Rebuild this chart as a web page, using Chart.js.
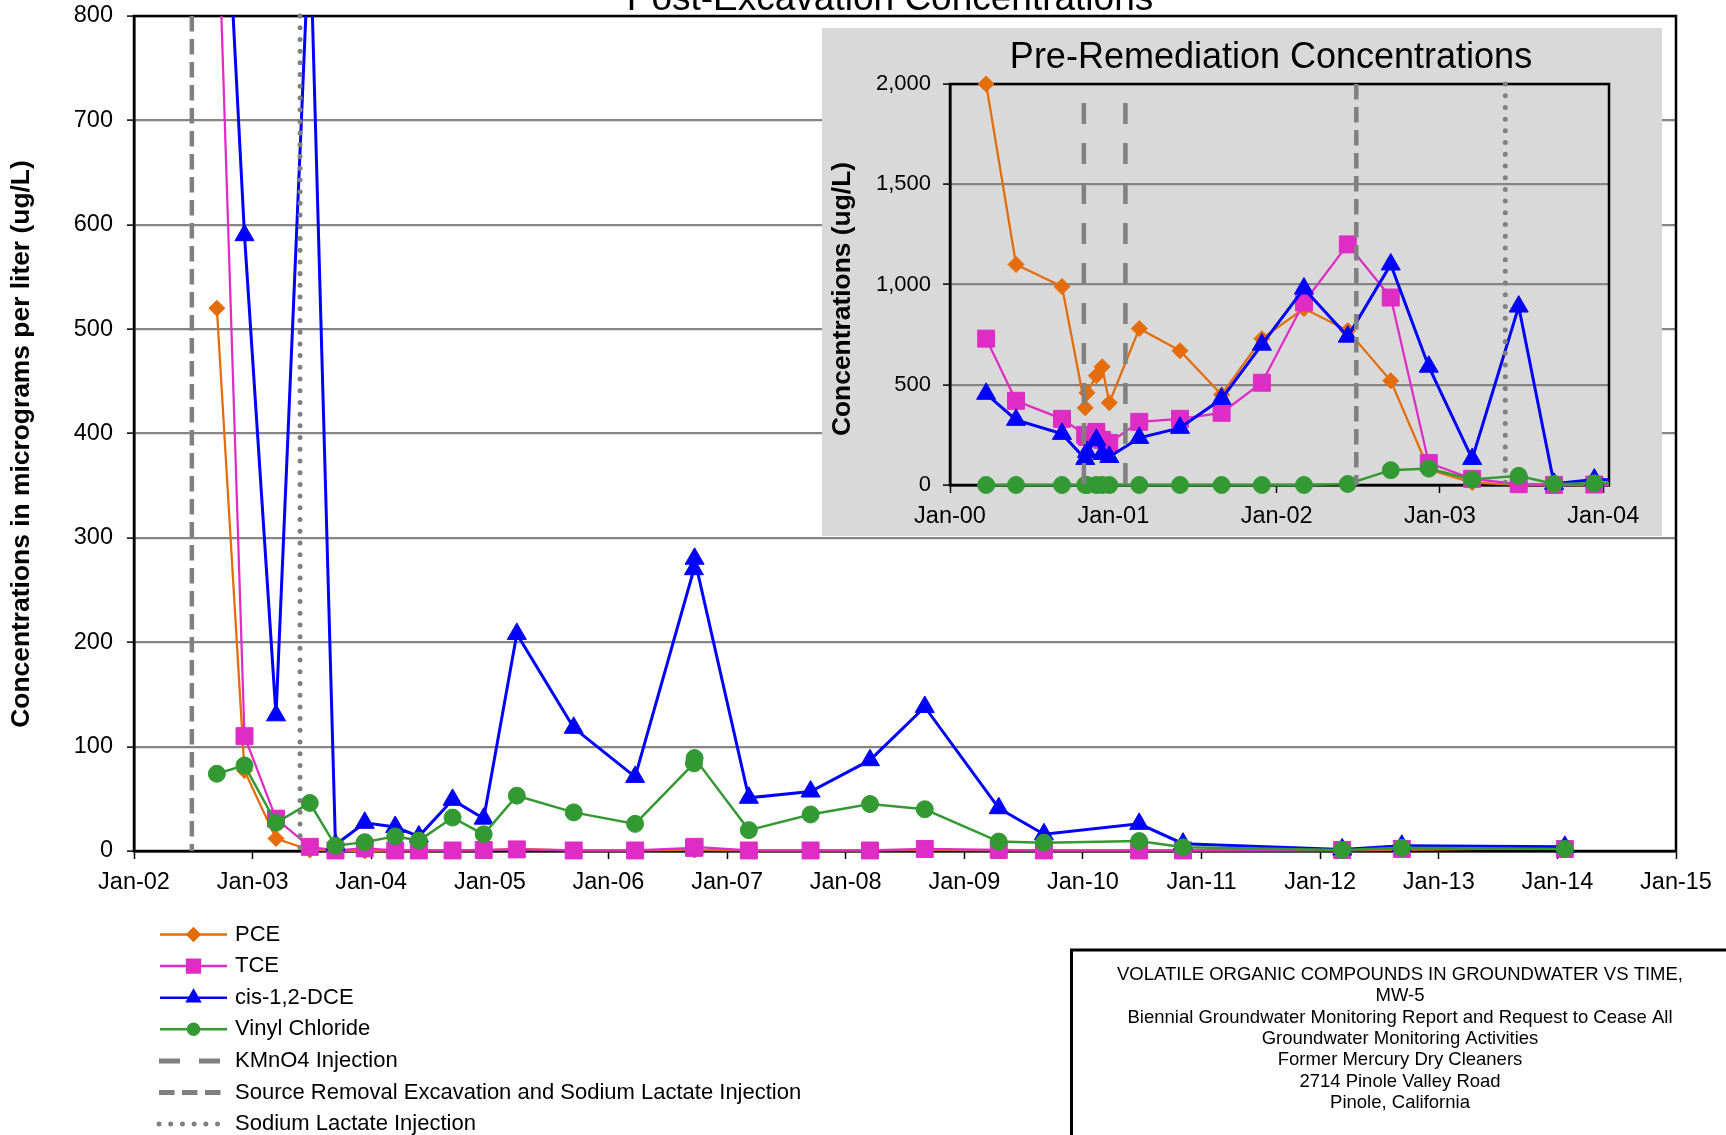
<!DOCTYPE html>
<html>
<head>
<meta charset="utf-8">
<title>MW-5 Volatile Organic Compounds vs Time</title>
<script src="https://cdn.jsdelivr.net/npm/chart.js@4.4.1/dist/chart.umd.min.js"></script>
<style>
  html, body { margin: 0; padding: 0; background: #fff; }
  #wrap { position: relative; width: 1726px; height: 1135px; overflow: hidden; }
  #mainChart { position: absolute; left: 0; top: 0; }
  #insetChart { position: absolute; left: 822px; top: 28px; background: #d9d9d9; }
</style>
</head>
<body>
<div id="wrap">
  <canvas id="mainChart" width="1726" height="1135"></canvas>
  <canvas id="insetChart" width="840" height="508"></canvas>
</div>
<script>
// MW-5 groundwater results (ug/L)
const sampleDates = [
  '2000-03-22', '2000-05-28', '2000-09-08', '2000-10-30', '2000-11-03', '2000-11-24',
  '2000-12-07', '2000-12-23', '2001-02-28', '2001-05-30', '2001-08-31', '2001-11-29',
  '2002-03-03', '2002-06-09', '2002-09-13', '2002-12-07', '2003-03-14', '2003-06-26',
  '2003-09-13', '2003-12-12', '2004-03-15', '2004-05-27', '2004-09-08', '2004-12-13',
  '2005-03-25', '2005-09-16', '2006-03-24', '2006-09-21', '2006-09-23', '2007-03-09',
  '2007-09-15', '2008-03-16', '2008-09-01', '2009-04-17', '2009-09-03', '2010-06-23',
  '2010-11-05', '2012-03-09', '2012-09-09', '2014-01-24'
];
const pce = [
  2000, 1100, 990, 385, 460, 545, 590, 410, 780, 670, 450, 730,
  880, 770, 520, 77, 12, 1, 0.5, 0, 0.5, 0.5, 0.5, 0.5,
  2, 0.5, 0.5, 1, 1, 0.5, 0.5, 0.5, 1, 0.5, 0.5, 0.5,
  0.5, 0.5, 1, 3
];
const tce = [
  730, 420, 330, 250, 240, 265, 225, 210, 315, 330, 360, 510,
  910, 1200, 935, 110, 31, 4, 0.5, 2.5, 0.5, 0.5, 0.5, 1,
  1.5, 0.5, 0.5, 3, 4, 0.5, 0.5, 0.5, 2, 1, 0.5, 0.5,
  0.5, 1, 2, 2
];
const dce = [
  455, 325, 255, 130, 165, 225, 155, 140, 235, 285, 430, 700,
  980, 740, 1100, 590, 130, 890, 6, 27, 23, 14, 49, 31,
  208, 118, 71, 270, 280, 51, 57, 87, 138, 41, 16, 26,
  7, 1.5, 5, 4
];
const vc = [
  0, 0, 0, 0, 0, 0, 0, 0, 0, 0, 0, 0,
  0, 5, 74, 82, 27, 46, 5, 8.5, 14, 10, 32, 16,
  53, 37, 26, 84, 89, 20, 35, 45, 40, 9, 8, 9.5,
  3.5, 1, 3, 2
];
const seriesNames = ['PCE', 'TCE', 'cis-1,2-DCE', 'Vinyl Chloride'];

// remedial events
const kmno4Dates = ['2000-10-27', '2001-01-28'];
const excavationDates = ['2002-06-28'];
const lactateDates = ['2003-05-27'];
const eventNames = ['KMnO4 Injection', 'Source Removal Excavation and Sodium Lactate Injection', 'Sodium Lactate Injection'];

// axes
const mainYearTicks = [2002, 2003, 2004, 2005, 2006, 2007, 2008, 2009, 2010, 2011, 2012, 2013, 2014, 2015];
const mainValueTicks = [0, 100, 200, 300, 400, 500, 600, 700, 800];
const insetYearTicks = [2000, 2001, 2002, 2003, 2004];
const insetValueTicks = [0, 500, 1000, 1500, 2000];
const postExcavationStart = '2002-09-01';

const mainTitle = 'Post-Excavation Concentrations';
const mainYTitle = 'Concentrations in micrograms per liter (ug/L)';
const insetTitle = 'Pre-Remediation Concentrations';
const insetYTitle = 'Concentrations (ug/L)';
const noteLines = [
  'VOLATILE ORGANIC COMPOUNDS IN GROUNDWATER VS TIME,',
  'MW-5',
  'Biennial Groundwater Monitoring Report and Request to Cease All',
  'Groundwater Monitoring Activities',
  'Former Mercury Dry Cleaners',
  '2714 Pinole Valley Road',
  'Pinole, California'
];

const FONT = '"Liberation Sans", Arial, Helvetica, sans-serif';
Chart.defaults.font.family = FONT;
Chart.defaults.color = '#000';

const seriesLook = [
  { color: '#e46c0a', pointStyle: 'rectRot', radius: 8, lineWidth: 2.25, legendRadius: 6 },
  { color: '#de2cc5', pointStyle: 'rect', radius: 12, lineWidth: 2.25, legendRadius: 9 },
  { color: '#0000ff', pointStyle: 'triangle', radius: 11, lineWidth: 3, legendRadius: 7 },
  { color: '#339933', pointStyle: 'circle', radius: 8.5, lineWidth: 2.5, legendRadius: 5.5 }
];
const eventLook = [
  { dates: kmno4Dates, dash: [21, 19], offset: 21, width: 4.5, cap: 'butt' },
  { dates: excavationDates, dash: [15.5, 7.5], offset: 0, width: 4.5, cap: 'butt' },
  { dates: lactateDates, dash: [0.01, 11.7], offset: 0, width: 5, cap: 'round' }
];
const GRID = '#858585';
const EVENT = '#808080';

function toYear(s) {
  const [y, m, d] = s.split('-').map(Number);
  const start = Date.UTC(y, 0, 1);
  const end = Date.UTC(y + 1, 0, 1);
  return y + (Date.UTC(y, m - 1, d) - start) / (end - start);
}
function withCommas(v) {
  return String(v).replace(/\B(?=(\d{3})+(?!\d))/g, ',');
}
function yearLabel(v) {
  return 'Jan-' + String(Math.round(v) % 100).padStart(2, '0');
}

function buildDatasets(startIdx, clip) {
  return [pce, tce, dce, vc].map((vals, i) => {
    const look = seriesLook[i];
    return {
      label: seriesNames[i],
      data: sampleDates.slice(startIdx).map((d, k) => ({ x: toYear(d), y: vals[startIdx + k] })),
      borderColor: look.color,
      backgroundColor: look.color,
      borderWidth: look.lineWidth,
      pointStyle: look.pointStyle,
      pointRadius: look.radius,
      pointBackgroundColor: look.color,
      pointBorderColor: look.color,
      pointBorderWidth: 1,
      tension: 0,
      fill: false,
      clip: clip,
      order: 4 - i
    };
  });
}

function drawMarker(ctx, look, x, y, r) {
  ctx.fillStyle = look.color;
  ctx.strokeStyle = look.color;
  if (Chart.helpers && Chart.helpers.drawPoint) {
    Chart.helpers.drawPoint(ctx, { pointStyle: look.pointStyle, radius: r, rotation: 0, borderWidth: 1 }, x, y);
  } else {
    ctx.beginPath();
    ctx.arc(x, y, r, 0, Math.PI * 2);
    ctx.fill();
  }
}

// black box round the plot area
const plotFrame = {
  id: 'plotFrame',
  beforeDatasetsDraw(chart) {
    const { ctx, chartArea: a } = chart;
    ctx.save();
    ctx.strokeStyle = '#000';
    ctx.lineWidth = 2.5;
    ctx.strokeRect(a.left, a.top, a.right - a.left, a.bottom - a.top);
    ctx.restore();
  }
};

// vertical remedial-event markers
const eventLines = {
  id: 'eventLines',
  afterDatasetsDraw(chart) {
    const { ctx, chartArea: a, scales: { x } } = chart;
    eventLook.forEach(ev => {
      ev.dates.forEach(d => {
        const v = toYear(d);
        if (v < x.min || v > x.max) return;
        const px = x.getPixelForValue(v);
        ctx.save();
        ctx.strokeStyle = EVENT;
        ctx.lineWidth = ev.width;
        ctx.lineCap = ev.cap;
        ctx.setLineDash(ev.dash);
        ctx.lineDashOffset = ev.offset;
        ctx.beginPath();
        ctx.moveTo(px, a.top);
        ctx.lineTo(px, a.bottom);
        ctx.stroke();
        ctx.restore();
      });
    });
  }
};

// titles, legend and title block on the main figure
const mainDecor = {
  id: 'mainDecor',
  afterDraw(chart) {
    const ctx = chart.ctx;
    ctx.save();
    ctx.fillStyle = '#000';

    ctx.font = '37px ' + FONT;
    ctx.textAlign = 'center';
    ctx.textBaseline = 'alphabetic';
    ctx.fillText(mainTitle, 890, 10);

    ctx.save();
    ctx.translate(21.5, 444);
    ctx.rotate(-Math.PI / 2);
    ctx.font = 'bold 26.4px ' + FONT;
    ctx.textBaseline = 'middle';
    ctx.fillText(mainYTitle, 0, 0);
    ctx.restore();

    // legend
    const top = 934.5, step = 31.6;
    ctx.font = '22px ' + FONT;
    ctx.textAlign = 'left';
    ctx.textBaseline = 'middle';
    seriesNames.forEach((name, i) => {
      const y = top + i * step;
      const look = seriesLook[i];
      ctx.save();
      ctx.strokeStyle = look.color;
      ctx.lineWidth = 2.5;
      ctx.beginPath();
      ctx.moveTo(160, y);
      ctx.lineTo(227, y);
      ctx.stroke();
      drawMarker(ctx, look, 193.5, y, look.legendRadius);
      ctx.restore();
      ctx.fillStyle = '#000';
      ctx.fillText(name, 235, y);
    });
    eventNames.forEach((name, j) => {
      const y = top + (seriesNames.length + j) * step;
      const ev = eventLook[j];
      ctx.save();
      ctx.strokeStyle = EVENT;
      ctx.lineWidth = 5;
      ctx.lineCap = ev.cap;
      ctx.setLineDash(ev.dash);
      ctx.beginPath();
      ctx.moveTo(159, y);
      ctx.lineTo(221, y);
      ctx.stroke();
      ctx.restore();
      ctx.fillStyle = '#000';
      ctx.fillText(name, 235, y);
    });

    // figure title block
    ctx.strokeStyle = '#000';
    ctx.lineWidth = 3;
    ctx.strokeRect(1071.5, 950, 700, 300);
    ctx.font = '18.5px ' + FONT;
    ctx.textAlign = 'center';
    noteLines.forEach((line, i) => {
      ctx.fillText(line, 1400, 975 + i * 21.3);
    });
    ctx.restore();
  }
};

const insetDecor = {
  id: 'insetDecor',
  afterDraw(chart) {
    const ctx = chart.ctx;
    ctx.save();
    ctx.fillStyle = '#000';
    ctx.font = '36px ' + FONT;
    ctx.textAlign = 'center';
    ctx.textBaseline = 'alphabetic';
    ctx.fillText(insetTitle, 449, 40);
    ctx.translate(21, 271);
    ctx.rotate(-Math.PI / 2);
    ctx.font = 'bold 26.4px ' + FONT;
    ctx.textBaseline = 'middle';
    ctx.fillText(insetYTitle, 0, 0);
    ctx.restore();
  }
};

function axisOptions(cfg) {
  return {
    x: {
      type: 'linear',
      min: cfg.xMin,
      max: cfg.xMax,
      afterBuildTicks: s => { s.ticks = cfg.xTicks.map(v => ({ value: v })); },
      afterFit: s => { s.height = cfg.xHeight; },
      grid: { drawOnChartArea: false, drawTicks: true, tickLength: 8, tickColor: '#000', tickWidth: 1.5 },
      border: { color: '#000', width: 2.5 },
      ticks: {
        autoSkip: false, maxRotation: 0, padding: 9,
        font: { size: 23.5 }, color: '#000',
        callback: v => yearLabel(v)
      }
    },
    y: {
      type: 'linear',
      min: 0,
      max: cfg.yMax,
      afterBuildTicks: s => { s.ticks = cfg.yTicks.map(v => ({ value: v })); },
      afterFit: s => {
        s.width = cfg.yWidth;
        // keep the plot box where the figure has it; labels may overhang
        s.paddingTop = 0;
        s.paddingBottom = 0;
      },
      grid: { color: GRID, lineWidth: 2.2, drawTicks: true, tickLength: 7, tickColor: '#000', tickWidth: 1.5 },
      border: { color: '#000', width: 2.5 },
      ticks: {
        padding: cfg.yPad,
        font: { size: cfg.yFont }, color: '#000',
        callback: v => withCommas(v)
      }
    }
  };
}

const mainStartIdx = sampleDates.findIndex(d => d >= postExcavationStart);

new Chart(document.getElementById('mainChart'), {
  type: 'line',
  data: { datasets: buildDatasets(mainStartIdx, { left: 12, top: 0, right: 12, bottom: 14 }) },
  options: {
    responsive: false,
    animation: false,
    events: [],
    layout: { padding: { top: 16, right: 50, left: 0, bottom: 0 } },
    plugins: { legend: { display: false }, tooltip: { enabled: false } },
    scales: axisOptions({
      xMin: 2002, xMax: 2015, xTicks: mainYearTicks, xHeight: 284,
      yMax: 800, yTicks: mainValueTicks, yWidth: 134, yPad: 14, yFont: 23.5
    })
  },
  plugins: [plotFrame, eventLines, mainDecor]
});

new Chart(document.getElementById('insetChart'), {
  type: 'line',
  data: { datasets: buildDatasets(0, { left: 12, top: 12, right: 0, bottom: 14 }) },
  options: {
    responsive: false,
    animation: false,
    events: [],
    layout: { padding: { top: 56, right: 53, left: 0, bottom: 0 } },
    plugins: { legend: { display: false }, tooltip: { enabled: false } },
    scales: axisOptions({
      xMin: 2000, xMax: 2004.035, xTicks: insetYearTicks, xHeight: 51,
      yMax: 2000, yTicks: insetValueTicks, yWidth: 128, yPad: 12, yFont: 22
    })
  },
  plugins: [plotFrame, eventLines, insetDecor]
});
</script>
</body>
</html>
